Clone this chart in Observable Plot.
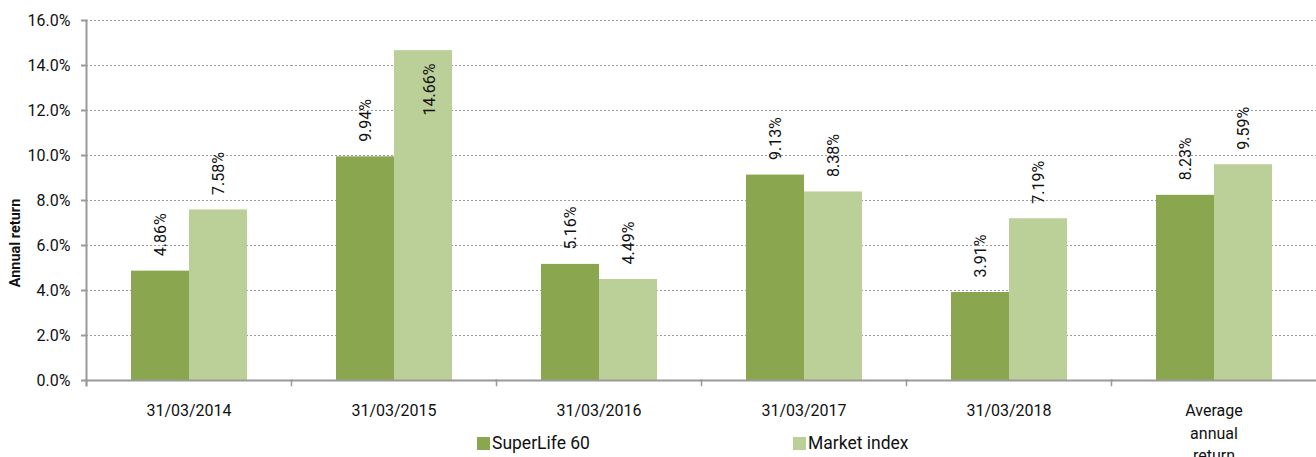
<!DOCTYPE html>
<html><head><meta charset="utf-8">
<script src="https://cdn.jsdelivr.net/npm/d3@7"></script>
<script src="https://cdn.jsdelivr.net/npm/@observablehq/plot@0.6"></script>
<style>
body{margin:0;background:#fff;font-family:Roboto,sans-serif;}
#wrap{position:relative;width:1316px;height:457px;overflow:hidden;background:#fff}
#ylabel{position:absolute;left:15px;top:243px;transform:translate(-50%,-50%) rotate(-90deg);font-family:Roboto,sans-serif;font-weight:bold;font-size:14.5px;color:#111;white-space:nowrap}
.leg{position:absolute;top:433px;font-family:Roboto,sans-serif;font-size:17.5px;color:#111;display:flex;align-items:center;white-space:nowrap}
.leg span.sw{display:inline-block;width:13px;height:13px;margin-right:2px}
</style></head><body><div id="wrap"></div>
<script>
const categories = ["31/03/2014","31/03/2015","31/03/2016","31/03/2017","31/03/2018","Average annual return"];
const series = ["SuperLife 60","Market index"];
const superLife = [4.86, 9.94, 5.16, 9.13, 3.91, 8.23];
const marketIndex = [7.58, 14.66, 4.49, 8.38, 7.19, 9.59];
const yTicks = [0,2,4,6,8,10,12,14,16];
const colors = ["#8aa64f","#bbd098"];
const yLabel = "Annual return";

const values = [superLife, marketIndex];
const data = categories.flatMap((c,i)=>series.map((s,j)=>({cat:c, series:s, value:values[j][i]})));
const fmt = d => d.value.toFixed(2) + "%";
const fitsAbove = d => d.value <= 13;

const W=1316, H=457, mt=20, mb=77, ml=86, FS=16;
const plot = Plot.plot({
  width:W, height:H, marginTop:mt, marginBottom:mb, marginLeft:ml, marginRight:0,
  style:{fontFamily:"Roboto, sans-serif", fontSize:FS+"px", color:"#111", background:"#fff", overflow:"visible"},
  fx:{domain:categories, paddingInner:0, paddingOuter:0, label:null, axis:null},
  x:{domain:series, paddingInner:0, paddingOuter:0.767, axis:null},
  y:{domain:[0,16], label:null},
  color:{domain:series, range:colors},
  marks:[
    Plot.gridY(yTicks, {stroke:"#9a9a9a", strokeOpacity:1, strokeDasharray:"2,2"}),
    Plot.barY(data, {fx:"cat", x:"series", y:"value", fill:"series"}),
    Plot.text(data.filter(fitsAbove), {fx:"cat", x:"series", y:"value", text:fmt, rotate:-90, textAnchor:"start", dy:-15, fill:"#111", fontSize:FS}),
    Plot.text(data.filter(d=>!fitsAbove(d)), {fx:"cat", x:"series", frameAnchor:"top", text:fmt, rotate:-90, textAnchor:"end", dy:43, fill:"#111", fontSize:FS}),
    Plot.frame({anchor:"bottom", stroke:"#999", strokeWidth:2}),
    Plot.frame({anchor:"left", stroke:"#999", strokeWidth:2, facetAnchor:"left", insetBottom:-5}),
    Plot.frame({anchor:"left", stroke:"#999", strokeWidth:1.5, insetTop:H-mt-mb, insetBottom:-5}),
    Plot.axisY(yTicks, {tickSize:5, tickPadding:11, stroke:"#999", strokeWidth:2, tickFormat:d=>d.toFixed(1)+"%", fill:"#111", fontSize:FS, label:null}),
    Plot.axisFx({anchor:"bottom", tickSize:0, tickPadding:20, tickFormat:d=>d.replace(/ /g,"\n"), lineHeight:1.4, fill:"#111", fontSize:FS, label:null})
  ]
});
const wrap = document.getElementById("wrap");
wrap.appendChild(plot);
const yl = document.createElement("div"); yl.id="ylabel"; yl.textContent=yLabel; wrap.appendChild(yl);
const legLeft = [477, 793];
series.forEach((s,i)=>{
  const d=document.createElement("div"); d.className="leg"; d.style.left=legLeft[i]+"px";
  d.innerHTML=`<span class="sw" style="background:${colors[i]}"></span>`;
  d.appendChild(document.createTextNode(s));
  wrap.appendChild(d);
});
</script></body></html>
